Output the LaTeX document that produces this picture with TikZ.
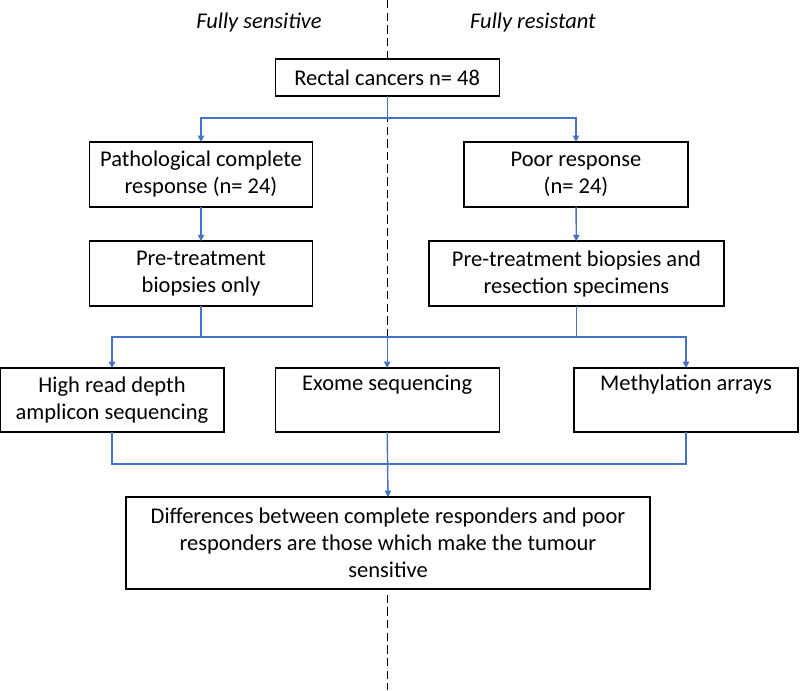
\documentclass[tikz,border=0pt]{standalone}
\usepackage{fontspec}
\setmainfont{Carlito}
\usetikzlibrary{arrows.meta}
\definecolor{linkblue}{HTML}{4472C4}

\begin{document}
\begin{tikzpicture}[
        font = \fontsize{16}{19.3}\selectfont,
        outer sep = 0mm, inner sep = 0mm,
        box/.style = {
          rectangle, draw = black, line width = .9pt, fill = white,
          align = center, minimum height = 1.625cm,
        },
        link/.style = {
          draw = linkblue, line width = 1pt,
          -{Triangle[length = 4.5pt, width = 4.5pt]},
        },
        side/.style = {font = \fontsize{16}{19.3}\selectfont\itshape},
      ]

      \useasboundingbox (0,0) rectangle (20,-17.25);

      % the split between the two groups
      \coordinate (top) at (9.68,0);
      \coordinate (bot) at (9.68,-17.25);
      \draw[line width = .8pt, dash pattern = on 6pt off 3pt] (top) to (bot);

      \node[side] (sens) at (6.475,-.55) {Fully sensitive};
      \node[side] (res) at (13.325,-.55) {Fully resistant};

      \node[box, minimum width = 5.6cm, minimum height = .925cm] (rect) at (9.68,-1.94) {Rectal cancers n= 48};

      \node[box, minimum width = 5.575cm] (pcr) at (5.025,-4.36) {Pathological complete\\response (n= 24)};
      \node[box, minimum width = 5.6cm] (poor) at (14.4,-4.36) {Poor response\\(n= 24)};

      \node[box, minimum width = 5.575cm] (pre1) at (5.025,-6.84) {Pre-treatment\\biopsies only};
      \node[box, minimum width = 7.375cm] (pre2) at (14.41,-6.84) {Pre-treatment biopsies and\\resection specimens};

      \node[box, minimum width = 5.6cm, minimum height = 1.6cm] (hrd) at (2.8,-10) {High read depth\\amplicon sequencing};
      \node[box, minimum width = 5.6cm, minimum height = 1.6cm] (exome) at (9.68,-10) {Exome sequencing\\\strut};
      \node[box, minimum width = 5.6cm, minimum height = 1.6cm] (meth) at (17.15,-10) {Methylation arrays\\\strut};

      \node[box, minimum width = 13.1cm, minimum height = 2.3cm] (diff) at (9.7,-13.575)
        {Differences between complete responders and poor\\responders are those which make the tumour\\sensitive};

      \draw[link] (rect.south) to ++(0,-.55) -| (pcr.north);
      \draw[link] (rect.south) to ++(0,-.55) -| (poor.north);

      \draw[link] (pcr) to (pre1);
      \draw[link] (poor) to (pre2);

      \draw[link] (pre1.south) to ++(0,-.775) -| (hrd.north);
      \draw[link] (pre1.south) ++(0,-.775) -| (exome.north);
      \draw[link] (pre2.south) to ++(0,-.775) -| (meth.north);
      \draw[link, -] (pre1.south) ++(0,-.775) to ++(9.385,0);

      \draw[link, -] (hrd.south) to ++(0,-.8) -| (meth.south);
      \draw[link] (exome.south) to (diff.north);
    \end{tikzpicture}
\end{document}
